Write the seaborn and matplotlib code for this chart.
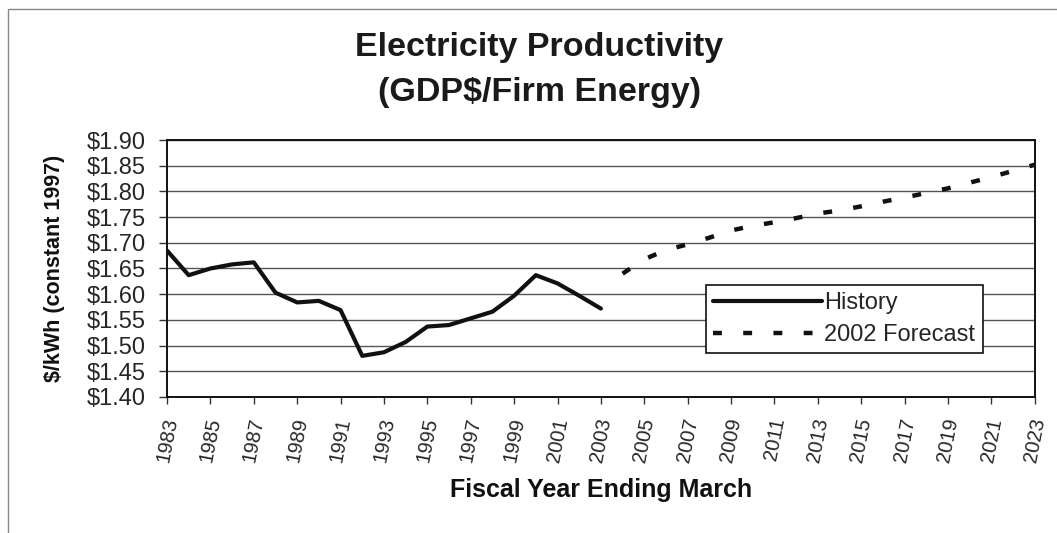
import numpy as np
import pandas as pd
import matplotlib
matplotlib.use("Agg")
import matplotlib.pyplot as plt
from matplotlib.lines import Line2D
from matplotlib.patches import Rectangle
import seaborn as sns

# Historical electricity productivity, $/kWh (constant 1997)
history_years = list(range(1983, 2004))
history_values = [1.685, 1.637, 1.650, 1.658, 1.662, 1.603, 1.584, 1.587, 1.569, 1.480,
                  1.487, 1.507, 1.537, 1.540, 1.553, 1.566, 1.597, 1.637, 1.621, 1.597,
                  1.572]

# 2002 forecast
forecast_years = list(range(2004, 2024))
forecast_values = [1.640, 1.668, 1.686, 1.697, 1.710, 1.724, 1.733, 1.740, 1.748, 1.757,
                   1.763, 1.771, 1.780, 1.788, 1.797, 1.806, 1.817, 1.828, 1.840, 1.852]

y_ticks = [1.40, 1.45, 1.50, 1.55, 1.60, 1.65, 1.70, 1.75, 1.80, 1.85, 1.90]
x_tick_years = list(range(1983, 2024, 2))

hist_df = pd.DataFrame({"year": history_years, "value": history_values})
fc_df = pd.DataFrame({"year": forecast_years, "value": forecast_values})

sns.set_theme(style="white")
plt.rcParams["font.family"] = ["Liberation Sans", "DejaVu Sans"]

fig = plt.figure(figsize=(10.57, 5.33), dpi=100)
fig.patch.set_facecolor("white")
ax = fig.add_axes([0.158, 0.2552, 0.821, 0.4821])

sns.lineplot(data=hist_df, x="year", y="value", ax=ax, color="#111111",
             linewidth=3.0, label="History")
sns.lineplot(data=fc_df, x="year", y="value", ax=ax, color="#111111",
             linewidth=3.2, label="2002 Forecast")
ax.lines[1].set_dashes((2.0, 4.8))
ax.lines[1].set_dash_capstyle("butt")

ax.set_xlim(1983, 2023)
ax.set_ylim(1.40, 1.90)
ax.set_yticks(y_ticks)
ax.set_yticklabels([f"${v:.2f}" for v in y_ticks], fontsize=17)
ax.set_xticks(x_tick_years)
ax.set_xticklabels([str(y) for y in x_tick_years], fontsize=14.5,
                   rotation=79, ha="center", va="top", rotation_mode="default")

ax.yaxis.grid(True, color="#555555", linewidth=1.0)
ax.xaxis.grid(False)
ax.set_axisbelow(True)

for s in ax.spines.values():
    s.set_color("#111111")
    s.set_linewidth(1.4)

ax.tick_params(axis="y", which="major", direction="out", length=6,
               width=1.0, color="#333333", left=True, pad=9)
ax.tick_params(axis="x", which="major", direction="out", length=5,
               width=1.0, color="#333333", bottom=True, pad=9)

ax.set_xlabel("Fiscal Year Ending March", fontsize=18, fontweight="bold",
              labelpad=10, color="#111111")
ax.set_ylabel("$/kWh (constant 1997)", fontsize=15.5, fontweight="bold",
              labelpad=16, color="#111111")

fig.text(0.51, 0.91, "Electricity Productivity", ha="center", va="center",
         fontsize=24.5, fontweight="bold", color="#1a1a1a")
fig.text(0.51, 0.827, "(GDP$/Firm Energy)", ha="center", va="center",
         fontsize=24.5, fontweight="bold", color="#1a1a1a")

handles = [Line2D([], [], color="#111111", linewidth=3.0),
           Line2D([], [], color="#111111", linewidth=3.2, dashes=(2.0, 4.8))]
leg = ax.legend(handles, ["History", "2002 Forecast"], loc="upper left",
                bbox_to_anchor=(0.621, 0.436), fontsize=17, handlelength=4.6,
                handletextpad=0.1, borderpad=0.32, labelspacing=0.4,
                borderaxespad=0.0,
                frameon=True, fancybox=False, framealpha=1.0)
leg.get_frame().set_edgecolor("#111111")
leg.get_frame().set_linewidth(1.2)

# Outer chart-area border (top and left edges visible)
fig.patches.append(Rectangle((8 / 1057, -0.1), 1.2, 1.1 - 9 / 533,
                             transform=fig.transFigure, fill=False,
                             edgecolor="#888888", linewidth=1.0))

fig.savefig("out.png", dpi=100, facecolor="white")
